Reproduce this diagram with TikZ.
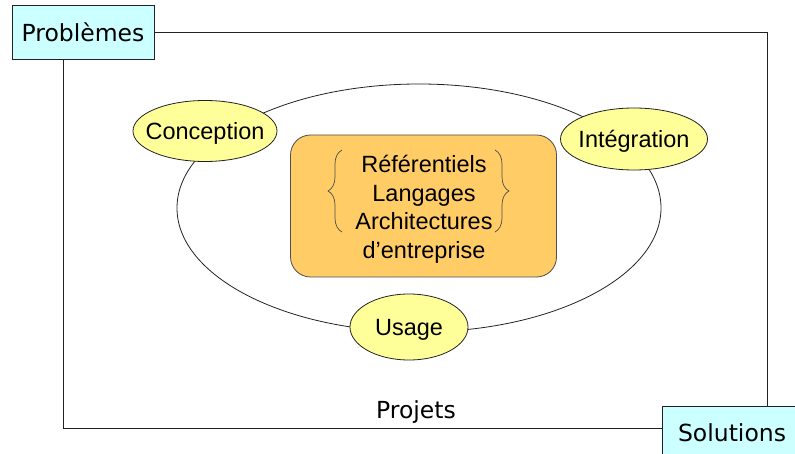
\documentclass[tikz,border=0pt]{standalone}
\usepackage{fontspec}
\setmainfont{Liberation Sans}
\newfontfamily\verdfont{DejaVu Sans}
\usetikzlibrary{shapes.geometric,decorations.pathreplacing}

\definecolor{tagfill}{HTML}{CCFFFF}
\definecolor{phasefill}{HTML}{FFFF99}
\definecolor{corefill}{HTML}{FFCC66}
\definecolor{linegray}{HTML}{222222}

\tikzset{
  tagbox/.style={draw=linegray, line width=0.9pt, fill=tagfill, inner sep=0pt,
    font=\verdfont\fontsize{23.5}{28}\selectfont},
  frameline/.style={draw=linegray, line width=0.9pt},
  phase/.style={ellipse, draw=linegray, line width=0.8pt, fill=phasefill, inner sep=0pt,
    label={[font=\fontsize{23.5}{28}\selectfont, inner sep=0pt,
            text height=17pt, text depth=0pt]center:#1}},
  corebox/.style={draw=linegray!80, line width=0.8pt, fill=corefill, rounded corners=20pt},
  bracket/.style={draw=linegray!80, line width=0.7pt,
    decorate, decoration={brace, amplitude=14pt}},
}

\begin{document}
\begin{tikzpicture}[x=1pt, y=-1pt]
\useasboundingbox (0,0) rectangle (795,454);

% corner labels
\node[tagbox, minimum width=142pt, minimum height=54pt] (prob) at (83,32) {Problèmes};
\node[tagbox, minimum width=160pt, minimum height=60pt, anchor=north west] (sol) at (662,406) {};
\node[font=\verdfont\fontsize{23.5}{28}\selectfont, anchor=base] (soltext) at (732,441) {Solutions};

% project frame joining the two labels
\coordinate (ne) at (767,33);
\coordinate (sw) at (63,428);
\draw[frameline] (prob.east) -| (ne |- sol.north);
\draw[frameline] (prob.south -| sw) |- (sol.west |- sw);
\node[font=\verdfont\fontsize{23.5}{28}\selectfont, anchor=base] (proj) at (416,418) {Projets};

% life cycle
\node[ellipse, draw=linegray, line width=0.8pt, minimum width=484pt, minimum height=248pt]
  (cycle) at (419,208) {};

\node[phase=Conception, minimum width=144pt, minimum height=61pt] (conc) at (205,131) {};
\node[phase=Intégration, minimum width=147pt, minimum height=62pt] (integ) at (634,139) {};
\node[phase=Usage, minimum width=118pt, minimum height=66pt] (usage) at (409,327) {};

% central box
\node[corebox, minimum width=266pt, minimum height=142pt] (core) at (423.5,206) {};
\node[align=center, inner sep=0pt, font=\fontsize{23.5}{28.5}\selectfont] (corelist)
  at (424,209.5) {Référentiels\\Langages\\Architectures\\d’entreprise};

\coordinate (lbtop) at (342,150);
\coordinate (lbbot) at (342,232);
\coordinate (rbtop) at (495,150);
\coordinate (rbbot) at (495,232);
\draw[bracket] (lbbot) -- (lbtop);
\draw[bracket] (rbtop) -- (rbbot);
\end{tikzpicture}
\end{document}
